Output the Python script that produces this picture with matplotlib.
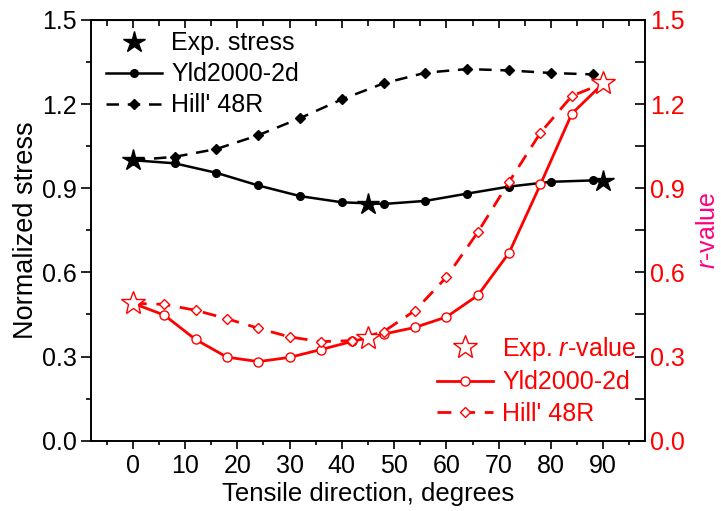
import matplotlib
matplotlib.use("Agg")
import matplotlib.pyplot as plt
from matplotlib.ticker import MultipleLocator

plt.rcParams['font.family'] = ['Liberation Sans', 'DejaVu Sans']
plt.rcParams['mathtext.fontset'] = 'custom'
plt.rcParams['mathtext.rm'] = 'Liberation Sans'
plt.rcParams['mathtext.it'] = 'Liberation Sans:italic'

# stress data (normalized)
exp_ang = [0, 45, 90]
exp_stress = [1.0, 0.843, 0.926]
st_ang = [0, 8, 16, 24, 32, 40, 48, 56, 64, 72, 80, 88, 90]
yld_stress = [1.0, 0.989, 0.955, 0.910, 0.872, 0.850, 0.844, 0.855, 0.881, 0.906, 0.923, 0.928, 0.928]
hill_stress = [1.0, 1.012, 1.040, 1.089, 1.150, 1.217, 1.274, 1.312, 1.325, 1.320, 1.311, 1.306, 1.305]

# r-value data
exp_r = [0.49, 0.365, 1.274]
r_ang = [0, 6, 12, 18, 24, 30, 36, 42, 48, 54, 60, 66, 72, 78, 84, 90]
yld_r = [0.49, 0.448, 0.361, 0.298, 0.282, 0.297, 0.325, 0.354, 0.380, 0.404, 0.441, 0.518, 0.670, 0.914, 1.166, 1.274]
hill_r = [0.49, 0.486, 0.465, 0.435, 0.401, 0.370, 0.353, 0.357, 0.389, 0.464, 0.583, 0.743, 0.923, 1.098, 1.229, 1.274]

fig = plt.figure(figsize=(7.21, 5.11), dpi=100)
ax = fig.add_axes([0.1262, 0.1376, 0.7684, 0.8233])
ax2 = ax.twinx()

red = '#FF0000'
fs_tick = 18
fs_leg = 18

# black: stress
l1, = ax.plot(exp_ang, exp_stress, ls='none', marker='*', ms=16, color='k', zorder=5)
l2, = ax.plot(st_ang, yld_stress, '-', color='k', lw=1.8, marker='o', ms=5.5,
              markevery=slice(0, 12))
l3, = ax.plot(st_ang, hill_stress, color='k', lw=1.8, ls=(0, (5, 3.5)), marker='D', ms=5,
              markevery=slice(0, 12))

# red: r-value
r1, = ax2.plot(exp_ang, exp_r, ls='none', marker='*', ms=18, mfc='white', mec=red,
               mew=1.0, zorder=5)
r2, = ax2.plot(r_ang, yld_r, '-', color=red, lw=2.0, marker='o', ms=6.5, mfc='white',
               mec=red, mew=1.0)
r3, = ax2.plot(r_ang, hill_r, color=red, lw=2.0, ls=(0, (5, 3.5)), marker='D', ms=5.5,
               mfc='white', mec=red, mew=1.0)

ax.set_xlim(-8, 98)
ax.set_ylim(0, 1.5)
ax2.set_ylim(0, 1.5)

ax.set_xticks(range(0, 91, 10))
ax.xaxis.set_minor_locator(MultipleLocator(5))
ax.yaxis.set_major_locator(MultipleLocator(0.3))
ax.yaxis.set_minor_locator(MultipleLocator(0.15))
ax2.yaxis.set_major_locator(MultipleLocator(0.3))
ax2.yaxis.set_minor_locator(MultipleLocator(0.15))
ax.yaxis.set_major_formatter(plt.FormatStrFormatter('%.1f'))
ax2.yaxis.set_major_formatter(plt.FormatStrFormatter('%.1f'))

ax.tick_params(axis='x', which='both', direction='out', top=False, labelsize=fs_tick, width=1.2)
ax.tick_params(axis='x', which='major', length=6)
ax.tick_params(axis='x', which='minor', length=3)
ax.tick_params(axis='y', which='both', direction='out', labelsize=fs_tick, width=1.2)
ax.tick_params(axis='y', which='major', length=7)
ax.tick_params(axis='y', which='minor', length=3.5)
ax2.tick_params(axis='y', which='both', direction='in', labelsize=fs_tick, width=1.2,
                colors='k', labelcolor=red)
ax2.tick_params(axis='y', which='major', length=7)
ax2.tick_params(axis='y', which='minor', length=7)

# top ticks pointing inward
sec = ax.secondary_xaxis('top')
sec.set_xticks(range(0, 91, 10))
sec.xaxis.set_minor_locator(MultipleLocator(5))
sec.tick_params(which='both', direction='in', labeltop=False, width=1.2)
sec.tick_params(which='major', length=6)
sec.tick_params(which='minor', length=4)

for a in (ax, ax2):
    for s in a.spines.values():
        s.set_linewidth(1.2)

ax.set_xlabel('Tensile direction, degrees', fontsize=18.5, labelpad=3)
ax.set_ylabel('Normalized stress', fontsize=19.5, labelpad=2)
ax2.set_ylabel('$r$-value', fontsize=18, color='#FF0080', labelpad=8)

leg1 = ax.legend([l1, l2, l3], ['Exp. stress', 'Yld2000-2d', "Hill' 48R"],
                 loc='upper left', bbox_to_anchor=(0.027, 0.973), frameon=False,
                 fontsize=fs_leg, numpoints=1, handlelength=2.25, handletextpad=0.36,
                 labelspacing=0.28, borderaxespad=0, borderpad=0)
leg2 = ax2.legend([r1, r2, r3], ['Exp. $r$-value', 'Yld2000-2d', "Hill' 48R"],
                  loc='lower right', bbox_to_anchor=(0.985, 0.036), frameon=False,
                  fontsize=fs_leg, numpoints=1, handlelength=2.25, handletextpad=0.36,
                  labelspacing=0.29, borderaxespad=0, borderpad=0, labelcolor=red)

fig.savefig('out.png', dpi=100)
